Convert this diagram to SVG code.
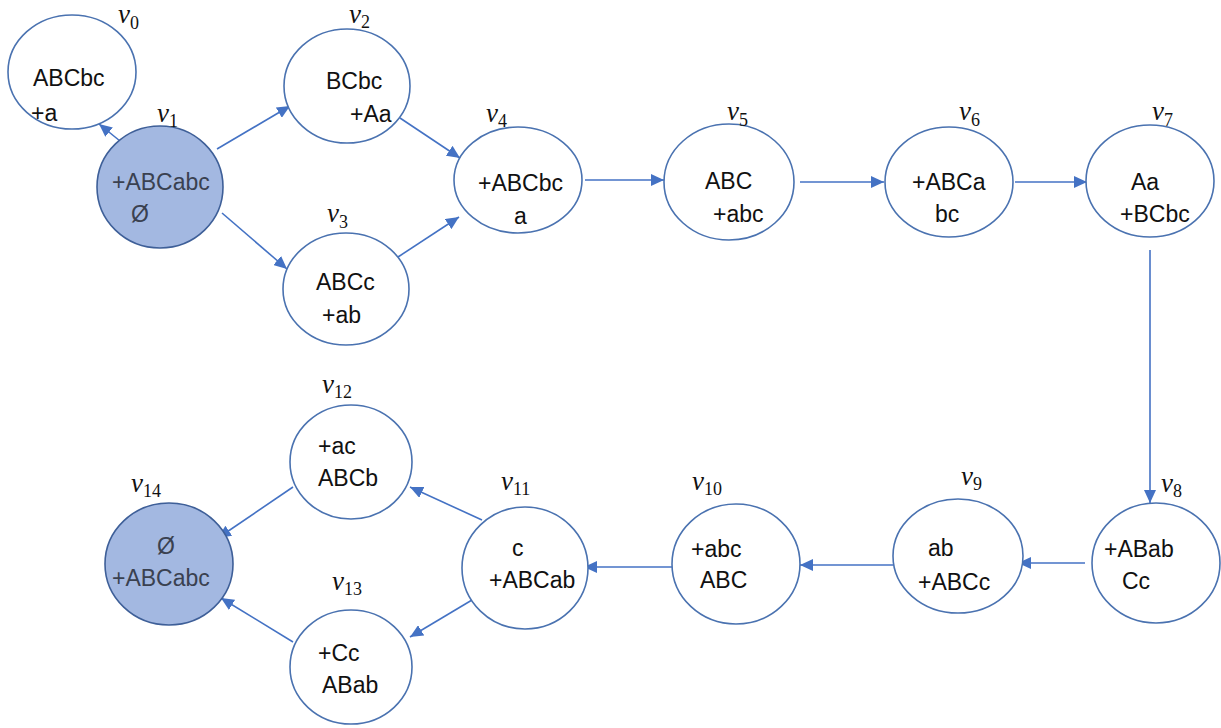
<svg xmlns="http://www.w3.org/2000/svg" width="1221" height="728" viewBox="0 0 1221 728">
<style>
.n{fill:#fff;stroke:#4a72b0;stroke-width:1.6}
.f{fill:#a3b8e1;stroke:#3e5f98;stroke-width:1.6}
.t{font-family:"Liberation Sans",Arial,sans-serif;font-size:23px;fill:#111}
.tf{font-family:"Liberation Sans",Arial,sans-serif;font-size:23px;fill:#3a4150}
.lv{font-family:"Liberation Serif","Times New Roman",serif;font-style:italic;font-size:27px;fill:#111}
.ls{font-family:"Liberation Serif","Times New Roman",serif;font-style:normal;font-size:18px}
.e{stroke:#4472c4;stroke-width:1.6;fill:none;marker-end:url(#a)}
</style>
<defs>
<marker id="a" markerUnits="userSpaceOnUse" markerWidth="14" markerHeight="12" refX="13" refY="6" orient="auto">
<path d="M0,0 L13,6 L0,12 z" fill="#4472c4"/>
</marker>
</defs>
<rect width="1221" height="728" fill="#fff"/>
<g id="edges">
<line class="e" x1="120" y1="141" x2="99" y2="124"/>
<line class="e" x1="217" y1="149" x2="290" y2="106"/>
<line class="e" x1="222" y1="213" x2="287" y2="269"/>
<line class="e" x1="400" y1="118" x2="460" y2="158"/>
<line class="e" x1="398" y1="257" x2="459" y2="217"/>
<line class="e" x1="585" y1="180" x2="664" y2="180"/>
<line class="e" x1="800" y1="182" x2="884" y2="182"/>
<line class="e" x1="1015" y1="182" x2="1087" y2="182"/>
<line class="e" x1="1150" y1="250" x2="1150" y2="503"/>
<line class="e" x1="1085" y1="563" x2="1018" y2="563"/>
<line class="e" x1="893" y1="565" x2="800" y2="565"/>
<line class="e" x1="672" y1="567" x2="584" y2="567"/>
<line class="e" x1="482" y1="520" x2="410" y2="487"/>
<line class="e" x1="472" y1="600" x2="410" y2="637"/>
<line class="e" x1="293" y1="487" x2="218" y2="538"/>
<line class="e" x1="293" y1="642" x2="221" y2="598"/>
</g>
<g id="v0"><ellipse class="n" cx="72" cy="72" rx="64" ry="57"/><text class="t" x="33" y="86">ABCbc</text><text class="t" x="31" y="121">+a</text><text class="lv" x="118" y="23">v<tspan class="ls" dy="6">0</tspan></text></g>
<g id="v1"><ellipse class="f" cx="160" cy="187" rx="63" ry="61"/><text class="tf" x="112" y="190">+ABCabc</text><text class="tf" x="131" y="222">Ø</text><text class="lv" x="157" y="122">v<tspan class="ls" dy="5">1</tspan></text></g>
<g id="v2"><ellipse class="n" cx="347" cy="86" rx="63" ry="57"/><text class="t" x="326" y="89">BCbc</text><text class="t" x="350" y="122">+Aa</text><text class="lv" x="349" y="23">v<tspan class="ls" dy="5">2</tspan></text></g>
<g id="v3"><ellipse class="n" cx="346" cy="289" rx="63" ry="56"/><text class="t" x="316" y="290">ABCc</text><text class="t" x="322" y="323">+ab</text><text class="lv" x="327" y="222">v<tspan class="ls" dy="6">3</tspan></text></g>
<g id="v4"><ellipse class="n" cx="518" cy="180" rx="64" ry="53"/><text class="t" x="478" y="191">+ABCbc</text><text class="t" x="514" y="224">a</text><text class="lv" x="486" y="122">v<tspan class="ls" dy="5">4</tspan></text></g>
<g id="v5"><ellipse class="n" cx="729" cy="182" rx="65" ry="58"/><text class="t" x="705" y="189">ABC</text><text class="t" x="713" y="222">+abc</text><text class="lv" x="727" y="120">v<tspan class="ls" dy="6">5</tspan></text></g>
<g id="v6"><ellipse class="n" cx="949" cy="182" rx="64" ry="55"/><text class="t" x="912" y="190">+ABCa</text><text class="t" x="935" y="222">bc</text><text class="lv" x="959" y="120">v<tspan class="ls" dy="6">6</tspan></text></g>
<g id="v7"><ellipse class="n" cx="1150" cy="181" rx="64" ry="56"/><text class="t" x="1131" y="190">Aa</text><text class="t" x="1120" y="222">+BCbc</text><text class="lv" x="1152" y="120">v<tspan class="ls" dy="6">7</tspan></text></g>
<g id="v8"><ellipse class="n" cx="1156" cy="563" rx="64" ry="60"/><text class="t" x="1104" y="557">+ABab</text><text class="t" x="1122" y="589">Cc</text><text class="lv" x="1161" y="492">v<tspan class="ls" dy="5">8</tspan></text></g>
<g id="v9"><ellipse class="n" cx="958" cy="556" rx="65" ry="57"/><text class="t" x="928" y="556">ab</text><text class="t" x="918" y="590">+ABCc</text><text class="lv" x="961" y="485">v<tspan class="ls" dy="5">9</tspan></text></g>
<g id="v10"><ellipse class="n" cx="736" cy="564" rx="64" ry="60"/><text class="t" x="691" y="557">+abc</text><text class="t" x="700" y="588">ABC</text><text class="lv" x="692" y="490">v<tspan class="ls" dy="5">10</tspan></text></g>
<g id="v11"><ellipse class="n" cx="525" cy="568" rx="63" ry="61"/><text class="t" x="512" y="556">c</text><text class="t" x="489" y="588">+ABCab</text><text class="lv" x="501" y="490">v<tspan class="ls" dy="5">11</tspan></text></g>
<g id="v12"><ellipse class="n" cx="351" cy="462" rx="61" ry="57"/><text class="t" x="318" y="454">+ac</text><text class="t" x="318" y="486">ABCb</text><text class="lv" x="322" y="393">v<tspan class="ls" dy="5">12</tspan></text></g>
<g id="v13"><ellipse class="n" cx="351" cy="667" rx="61" ry="57"/><text class="t" x="318" y="661">+Cc</text><text class="t" x="322" y="693">ABab</text><text class="lv" x="332" y="590">v<tspan class="ls" dy="5">13</tspan></text></g>
<g id="v14"><ellipse class="f" cx="169" cy="564" rx="64" ry="61"/><text class="tf" x="157" y="554">Ø</text><text class="tf" x="112" y="586">+ABCabc</text><text class="lv" x="131" y="492">v<tspan class="ls" dy="5">14</tspan></text></g>
</svg>
